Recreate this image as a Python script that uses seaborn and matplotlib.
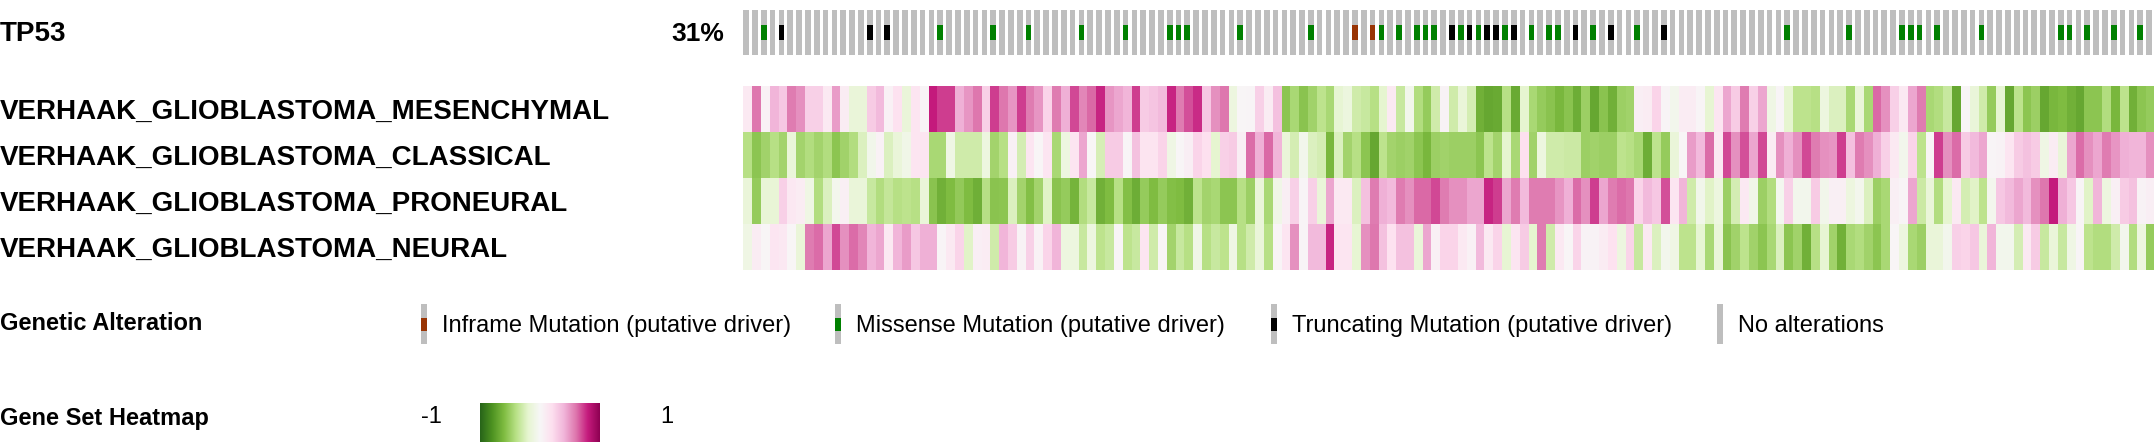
import numpy as np
import pandas as pd
import matplotlib
matplotlib.use("Agg")
import matplotlib.pyplot as plt
from matplotlib.transforms import blended_transform_factory
import seaborn as sns

# **1. Daten**
gene = "TP53"
n_samples = 160

# Spalten mit Mutationen (Index der Probe)
inframe_cols = [69, 71]
missense_cols = [2, 22, 28, 32, 38, 43, 48, 49, 50,
                 56, 64, 72, 74, 76, 77, 78, 81, 83, 86, 89, 91, 92, 96, 101,
                 118, 125, 131, 132, 133, 135, 140, 149, 150, 152, 155, 158]
truncating_cols = [4, 14, 16, 80, 82, 84, 85, 87, 94, 98, 104]

gene_sets = ["VERHAAK_GLIOBLASTOMA_MESENCHYMAL",
             "VERHAAK_GLIOBLASTOMA_CLASSICAL",
             "VERHAAK_GLIOBLASTOMA_PRONEURAL",
             "VERHAAK_GLIOBLASTOMA_NEURAL"]

mesenchymal = [
    0.12, 0.6, 0.05, 0.4, 0.32, 0.58, 0.52, 0.28, 0.28, 0.12, 0.48, 0.1, -0.15, -0.15, 0.3, 0.38, 0.05, 0.18, -0.15, 0.15, 0.03, 0.8, 0.72, 0.72, 0.42, 0.5, 0.6,
    0.28, 0.72, 0.6, 0.5, 0.72, 0.58, 0.5, 0.25, 0.58, 0.42, 0.7, 0.55, 0.63, 0.78, 0.5, 0.45, 0.4, 0.72, 0.3, 0.33, 0.38, 0.78, 0.58, 0.68, 0.76, 0.32, 0.52,
    0.6, -0.12, 0.02, 0.03, 0.28, 0.1, 0.35, -0.55, -0.45, -0.56, -0.48, -0.38, -0.45, -0.18, -0.13, -0.3, -0.33, -0.4, -0.2, 0.12, -0.33, -0.06, -0.42, -0.52, -0.3, 0.04, -0.3,
    -0.15, -0.28, -0.65, -0.7, -0.68, -0.4, -0.68, -0.2, -0.45, -0.52, -0.56, -0.62, -0.56, -0.67, -0.5, -0.7, -0.56, -0.65, -0.5, -0.48, 0.08, 0.1, 0.25, 0.03, -0.06, 0.1, 0.1,
    0.03, -0.18, 0.15, 0.45, 0.3, 0.58, 0.28, 0.45, -0.1, 0.03, -0.2, -0.38, -0.38, -0.4, -0.12, -0.25, -0.25, -0.45, -0.15, -0.45, 0.63, 0.52, 0.28, 0.12, 0.45, 0.58, -0.45,
    -0.42, -0.33, -0.7, 0.02, -0.15, -0.3, -0.52, -0.18, -0.7, -0.38, -0.55, -0.5, -0.7, -0.62, -0.6, -0.65, -0.7, -0.55, -0.55, -0.42, -0.62, -0.38, -0.65, -0.55, -0.52,
]
classical = [
    -0.4, -0.55, -0.48, -0.4, -0.47, -0.15, -0.47, -0.42, -0.47, -0.42, -0.55, -0.48, -0.42, -0.25, -0.07, 0.05, -0.25, -0.15, -0.08, 0.15, 0.15, -0.45, -0.45, -0.1, -0.3, -0.3, -0.3,
    -0.12, -0.47, -0.4, 0.06, -0.28, 0.15, 0.02, 0.15, -0.45, -0.12, 0.15, 0.45, 0.02, -0.27, 0.3, 0.3, 0.03, 0.35, 0.17, 0.17, 0.25, -0.1, 0.02, 0.08, 0.25, 0.2, -0.2,
    0.28, 0.3, 0.08, 0.62, 0.42, 0.63, 0.4, -0.15, -0.28, -0.06, -0.25, -0.28, -0.62, -0.25, -0.47, -0.4, -0.55, -0.7, -0.38, -0.47, -0.5, -0.48, -0.55, -0.62, -0.5, -0.48, -0.5,
    -0.5, -0.5, -0.55, -0.38, -0.47, -0.2, -0.45, 0.2, -0.48, -0.12, -0.3, -0.3, -0.32, -0.32, -0.5, -0.48, -0.5, -0.5, -0.38, -0.4, -0.45, -0.67, -0.38, -0.52, -0.15, 0.02, 0.48,
    0.38, 0.62, 0.12, 0.7, 0.52, 0.68, 0.45, 0.7, 0.1, 0.52, 0.42, 0.52, 0.7, 0.58, 0.52, 0.5, 0.72, 0.35, 0.58, 0.52, 0.42, 0.28, 0.12, -0.06, 0.25, -0.38, 0.03,
    0.72, 0.52, 0.62, 0.3, 0.38, 0.45, 0.03, 0.04, 0.15, 0.3, 0.35, 0.3, -0.1, 0.1, -0.15, 0.45, 0.62, 0.52, 0.45, 0.58, 0.5, 0.42, 0.4, 0.4, 0.52,
]
proneural = [
    -0.15, -0.52, -0.17, -0.17, 0.28, 0.13, 0.1, -0.1, -0.42, -0.25, -0.05, 0.07, -0.15, -0.15, -0.33, -0.42, -0.35, -0.4, -0.38, -0.4, -0.15, -0.56, -0.65, -0.6, -0.53, -0.6, -0.66,
    -0.4, -0.56, -0.55, -0.25, -0.47, -0.58, -0.47, -0.22, -0.56, -0.52, -0.64, -0.42, -0.33, -0.65, -0.6, -0.4, -0.58, -0.67, -0.52, -0.6, -0.52, -0.58, -0.6, -0.65, -0.38, -0.47, -0.45,
    -0.55, -0.55, -0.4, -0.5, -0.15, -0.45, -0.08, 0.08, 0.28, 0.03, 0.28, -0.15, 0.45, 0.12, 0.12, -0.25, 0.35, 0.58, 0.42, 0.38, 0.58, 0.52, 0.63, 0.63, 0.7, 0.58, 0.52,
    0.52, 0.45, 0.45, 0.78, 0.72, 0.45, 0.58, 0.38, 0.58, 0.58, 0.58, 0.5, 0.42, 0.62, 0.52, 0.72, 0.45, 0.58, 0.62, 0.6, 0.25, 0.38, 0.32, 0.68, 0.15, 0.4, -0.3,
    -0.07, -0.22, -0.12, -0.5, -0.28, 0.12, -0.08, -0.5, -0.42, -0.04, 0.28, -0.06, -0.06, 0.3, -0.07, 0.07, 0.07, -0.12, -0.05, -0.25, -0.5, -0.45, 0.07, 0.03, 0.45, -0.32, -0.15,
    -0.42, -0.2, 0.12, -0.28, -0.22, -0.38, -0.05, 0.32, 0.38, 0.45, 0.38, 0.52, 0.6, 0.8, 0.42, 0.32, 0.03, -0.22, 0.4, -0.12, 0.07, 0.3, 0.35, 0.04, 0.08,
]
neural = [
    -0.1, 0.1, 0.02, 0.15, 0.13, 0.02, -0.15, 0.58, 0.62, 0.45, 0.7, 0.52, 0.62, 0.55, 0.4, 0.45, 0.12, 0.4, 0.48, 0.32, 0.42, 0.42, 0.03, 0.12, 0.25, -0.22, 0.08,
    0.1, -0.3, 0.4, 0.3, 0.04, 0.28, 0.05, 0.25, 0.4, -0.12, -0.12, -0.33, -0.12, -0.38, -0.33, 0.03, -0.38, -0.33, 0.15, -0.3, 0.02, -0.47, -0.33, -0.4, -0.08, -0.4, -0.33,
    -0.38, -0.1, -0.4, -0.3, -0.15, -0.4, 0.03, 0.15, 0.52, 0.03, 0.38, 0.38, 0.78, 0.15, 0.15, -0.18, 0.52, 0.6, 0.35, 0.18, 0.35, 0.35, -0.15, 0.45, 0.06, 0.25, 0.25,
    0.12, 0.05, 0.38, 0.12, 0.25, -0.18, 0.15, 0.3, -0.2, 0.58, -0.3, 0.12, 0.02, 0.25, 0.04, 0.04, 0.1, 0.18, -0.12, 0.25, -0.33, 0.12, -0.25, -0.06, -0.1, -0.38, -0.38,
    -0.18, -0.45, -0.15, -0.56, -0.48, -0.38, -0.48, -0.55, -0.45, -0.25, -0.55, -0.48, -0.65, -0.4, -0.18, -0.48, -0.65, -0.45, -0.42, -0.48, -0.55, -0.45, 0.02, -0.12, -0.45, -0.5, -0.15,
    -0.15, -0.06, 0.28, 0.25, 0.32, -0.15, 0.4, -0.06, -0.06, -0.28, 0.12, 0.3, -0.33, -0.15, -0.33, -0.1, 0.03, -0.38, -0.42, -0.42, -0.3, -0.06, -0.42, -0.12, -0.52,
]

legend_items = ["Inframe Mutation (putative driver)",
                "Missense Mutation (putative driver)",
                "Truncating Mutation (putative driver)",
                "No alterations"]

# Farben
gray = "#bebebe"
mut_colors = {"inframe": "#993404", "missense": "#008000", "truncating": "#000000"}

heat = pd.DataFrame([mesenchymal, classical, proneural, neural], index=gene_sets)

# **2. Layout (Pixel -> Figure-Koordinaten)**
W, H = 2154, 442
plt.rcParams['font.family'] = ['Liberation Sans', 'DejaVu Sans']
fig = plt.figure(figsize=(W / 100, H / 100), dpi=100)


def box(x0, y0, x1, y1):
    return [x0 / W, 1 - y1 / H, (x1 - x0) / W, (y1 - y0) / H]


x_left, x_right = 743.3, 743.3 + 160 * 8.823

# **3. Oncoprint-Zeile TP53**
ax_op = fig.add_axes(box(x_left, 10, x_right, 55))
cols = np.arange(n_samples)
bw = 0.646
ax_op.bar(cols, 1, width=bw, align='edge', color=gray, linewidth=0)
ax_op.bar(missense_cols, 1 / 3, bottom=1 / 3, width=bw, align='edge', color=mut_colors["missense"], linewidth=0)
ax_op.bar(truncating_cols, 1 / 3, bottom=1 / 3, width=bw, align='edge', color=mut_colors["truncating"], linewidth=0)
ax_op.bar(inframe_cols, 1 / 3, bottom=1 / 3, width=bw, align='edge', color=mut_colors["inframe"], linewidth=0)
ax_op.set_xlim(0, n_samples)
ax_op.set_ylim(0, 1)
ax_op.axis('off')

altered = len(set(inframe_cols + missense_cols + truncating_cols))
tr = blended_transform_factory(fig.transFigure, ax_op.transAxes)
ax_op.text(0.0, 0.47, gene, transform=tr, ha='left', va='center', fontsize=20, fontweight='bold')
ax_op.text(724 / W, 0.47, f"{round(100 * altered / n_samples)}%", transform=tr,
           ha='right', va='center', fontsize=19, fontweight='bold')

# **4. Gene-Set-Heatmap**
ax_hm = fig.add_axes(box(x_left, 86, x_right, 270))
sns.heatmap(heat, cmap="PiYG_r", vmin=-1, vmax=1, cbar=False,
            xticklabels=False, yticklabels=False, ax=ax_hm)
ax_hm.set_xlim(0, n_samples)
tr = blended_transform_factory(fig.transFigure, ax_hm.transData)
for i, name in enumerate(gene_sets):
    ax_hm.text(0.0, i + 0.56, name, transform=tr, ha='left', va='center',
               fontsize=20, fontweight='bold')

# **5. Legende: Genetic Alteration**
ax_lg = fig.add_axes(box(0, 290, W, 442))
ax_lg.set_xlim(0, W)
ax_lg.set_ylim(152, 0)
ax_lg.axis('off')
ax_lg.text(0, 33, "Genetic Alteration", ha='left', va='center', fontsize=17, fontweight='bold')
swatch_x = [421, 835, 1271, 1717]
swatch_col = [mut_colors["inframe"], mut_colors["missense"], mut_colors["truncating"], None]
for sx, col, label in zip(swatch_x, swatch_col, legend_items):
    ax_lg.bar(sx, 40, bottom=14, width=6, align='edge', color=gray, linewidth=0)
    if col is not None:
        ax_lg.bar(sx, 13, bottom=27.5, width=6, align='edge', color=col, linewidth=0)
    ax_lg.text(sx + 21, 36, label, ha='left', va='center', fontsize=17)

# **6. Legende: Gene Set Heatmap**
ax_lg.text(0, 129, "Gene Set Heatmap", ha='left', va='center', fontsize=17, fontweight='bold')
ax_lg.text(421, 127, "-1", ha='left', va='center', fontsize=17)
ax_lg.text(660, 127, "1", ha='left', va='center', fontsize=17)
ax_cb = fig.add_axes(box(480, 403, 600, 442))
ax_cb.imshow(np.linspace(-1, 1, 256)[None, :], cmap="PiYG_r", vmin=-1, vmax=1, aspect='auto')
ax_cb.axis('off')

fig.savefig("out.png", dpi=100)
